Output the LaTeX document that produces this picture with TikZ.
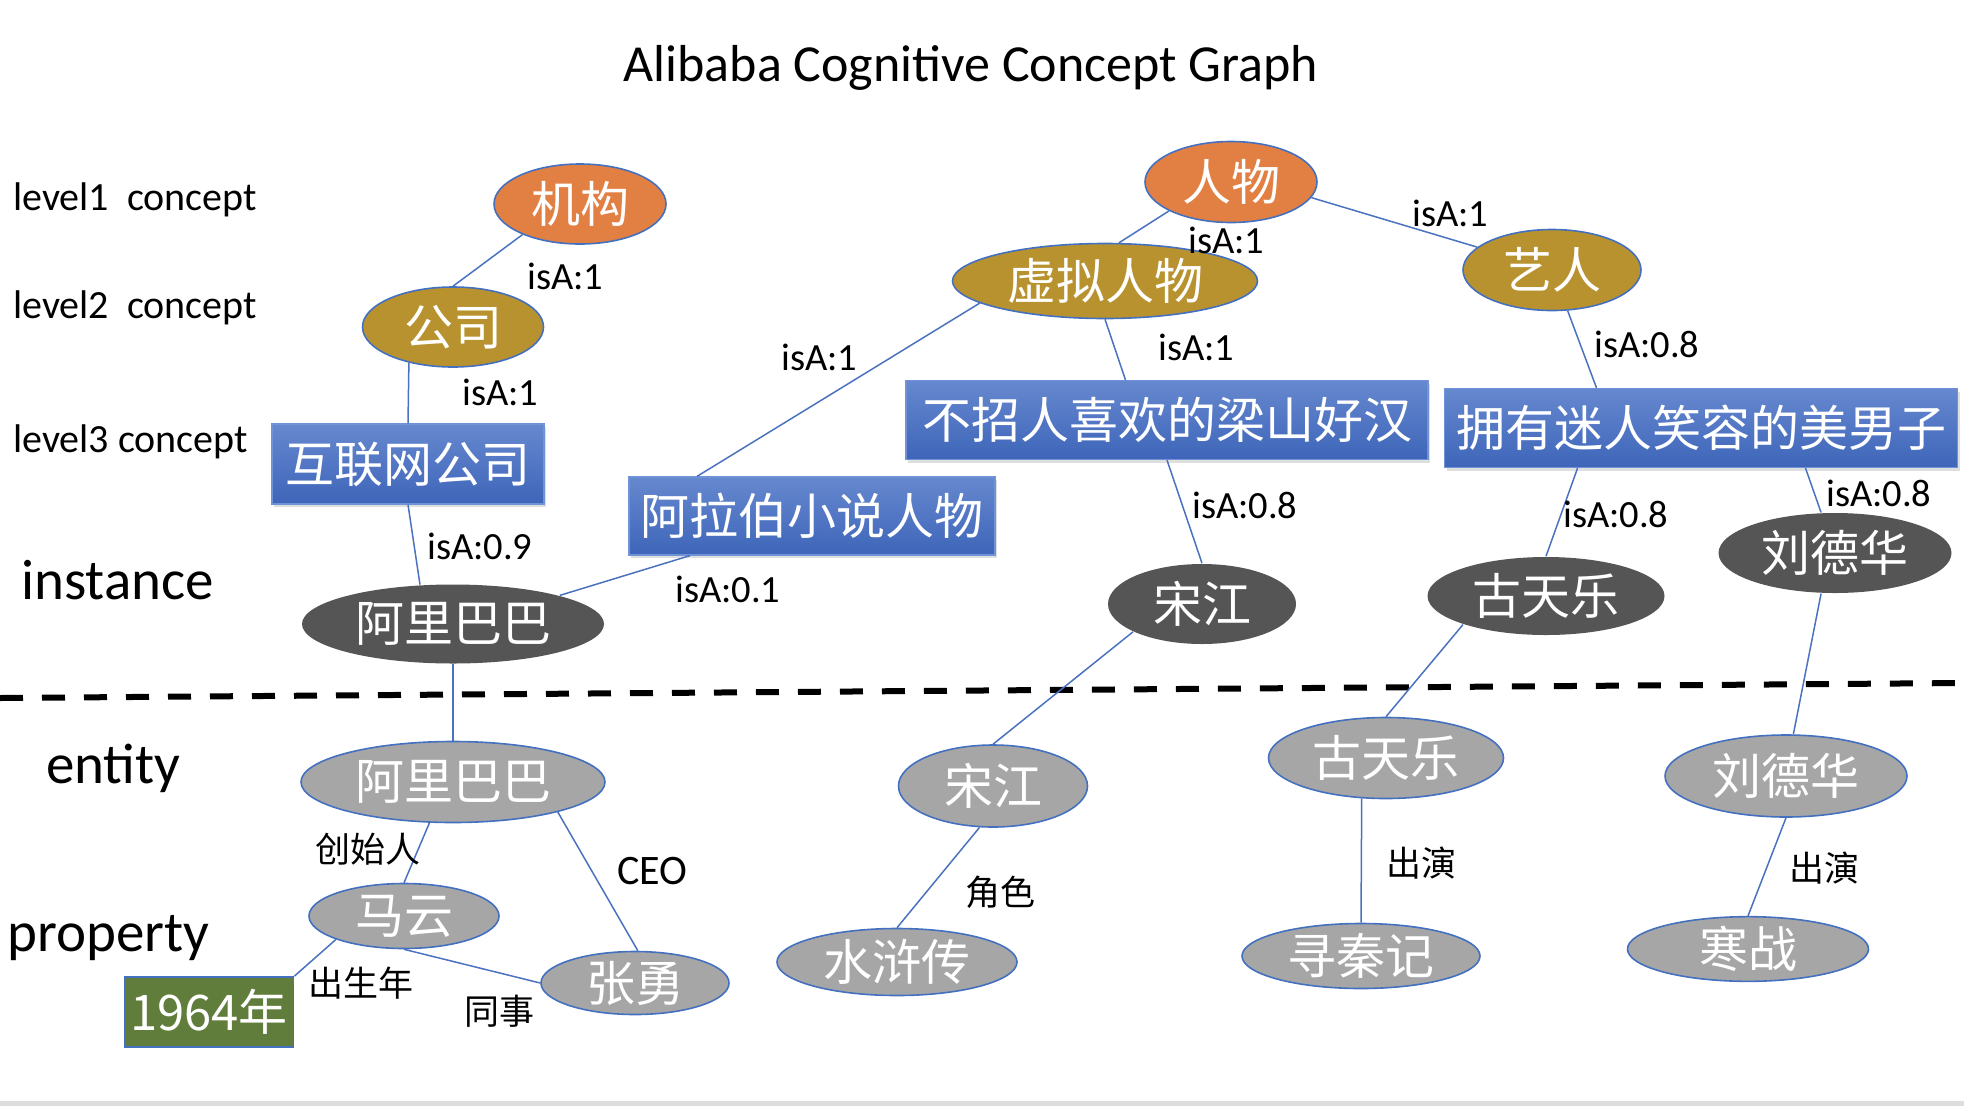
\documentclass[tikz,border=0pt]{standalone}
\usepackage{fontspec}
\setmainfont{Carlito}
\newfontfamily\cjk{Noto Sans CJK SC}
\usetikzlibrary{shapes.geometric,shadows}

\definecolor{cporange}{RGB}{226,128,68}
\definecolor{cpgold}{RGB}{185,146,48}
\definecolor{cpblueT}{RGB}{102,136,207}
\definecolor{cpblueB}{RGB}{62,101,185}
\definecolor{rectline}{RGB}{112,146,214}
\definecolor{nodeline}{RGB}{68,112,192}
\definecolor{linkblue}{RGB}{74,114,190}
\definecolor{instgray}{RGB}{85,85,85}
\definecolor{entgray}{RGB}{166,166,166}
\definecolor{propgreen}{RGB}{96,125,59}
\definecolor{stripgray}{RGB}{221,221,221}

\newcommand\nodefont{\cjk\fontsize{49}{51}\selectfont}
\newcommand\edgefont{\fontsize{38.5}{42}\selectfont}
\newcommand\edgecjk{\cjk\fontsize{35}{40}\selectfont}

\tikzset{
  wh/.style 2 args={minimum width=#1pt, minimum height=#2pt},
  oval/.style={ellipse, inner sep=0pt, draw=nodeline, line width=1.6pt, text=white, font=\nodefont},
  lvlone/.style={oval, fill=cporange},
  lvltwo/.style={oval, fill=cpgold},
  lvlthree/.style={rectangle, inner sep=0pt, draw=rectline, line width=1.2pt,
    top color=cpblueT, bottom color=cpblueB, text=white, font=\nodefont,
    drop shadow={opacity=0.25, shadow xshift=2pt, shadow yshift=-3pt}},
  inst/.style={oval, fill=instgray, draw=none},
  ent/.style={oval, fill=entgray},
  yearbox/.style={rectangle, inner sep=0pt, draw=nodeline, line width=1.6pt, fill=propgreen, text=white, font=\nodefont},
  link/.style={draw=linkblue, line width=1.5pt},
  lab/.style={font=\edgefont, inner sep=0pt, anchor=base west},
  labcn/.style={font=\edgecjk, inner sep=0pt, anchor=west},
  side/.style={inner sep=0pt, anchor=base west},
}

\begin{document}
\begin{tikzpicture}[x=1pt, y=-1pt]
    \useasboundingbox (0,0) rectangle (1964,1106);
    \fill[stripgray] (0,1101) rectangle (1964,1106);

    % 标题
    \node[inner sep=0pt, anchor=base, font=\fontsize{52}{56}\selectfont] (title) at (971,81) {Alibaba Cognitive Concept Graph};

    % 左侧层级
    \node[side, font=\fontsize{40}{44}\selectfont] (lv1) at (13,210) {level1\ \ concept};
    \node[side, font=\fontsize{40}{44}\selectfont] (lv2) at (13,318) {level2\ \ concept};
    \node[side, font=\fontsize{40}{44}\selectfont] (lv3) at (13,452) {level3 concept};
    \node[side, font=\fontsize{57}{60}\selectfont] (lvinst) at (21,599) {instance};
    \node[side, font=\fontsize{57}{60}\selectfont] (lvent) at (46,783) {entity};
    \node[side, font=\fontsize{57}{60}\selectfont] (lvprop) at (7,951) {property};

    % 概念节点
    \node[lvlone, wh={172}{80}] (jigou) at (580,204) {机构};
    \node[lvlone, wh={172}{81}] (renwu) at (1231,182) {人物};
    \node[lvltwo, wh={181}{80}] (gongsi) at (453,327) {公司};
    \node[lvltwo, wh={305}{75}] (xuni) at (1105,281) {虚拟人物};
    \node[lvltwo, wh={178}{81}] (yiren) at (1552,270) {艺人};
    \node[lvlthree, wh={272}{80}] (hulian) at (408,464) {互联网公司};
    \node[lvlthree, wh={366}{78}] (alabo) at (812,516) {阿拉伯小说人物};
    \node[lvlthree, wh={522}{79}] (buzhao) at (1167,420) {不招人喜欢的梁山好汉};
    \node[lvlthree, wh={513}{79}] (yongyou) at (1701,428) {拥有迷人笑容的美男子};

    % 实例节点
    \node[inst, wh={302}{79}] (ialibaba) at (453,624) {阿里巴巴};
    \node[inst, wh={188}{80}] (isongjiang) at (1202,604) {宋江};
    \node[inst, wh={237}{78}] (igutianle) at (1546,596) {古天乐};
    \node[inst, wh={233}{80}] (iliudehua) at (1835,553) {刘德华};

    % 分隔线
    \draw[line width=6pt, dash pattern=on 23pt off 19pt] (0,698) coordinate (cut1) -- (1964,683) coordinate (cut2);

    % 实体与属性
    \node[ent, wh={304}{81}] (ealibaba) at (453,782) {阿里巴巴};
    \node[ent, wh={189}{82}] (esongjiang) at (993,786) {宋江};
    \node[ent, wh={235}{81}] (egutianle) at (1386,758) {古天乐};
    \node[ent, wh={242}{82}] (eliudehua) at (1786,776) {刘德华};
    \node[ent, wh={190}{65}] (mayun) at (404,916) {马云};
    \node[ent, wh={188}{63}] (zhangyong) at (635,983) {张勇};
    \node[ent, wh={240}{67}] (shuihu) at (897,962) {水浒传};
    \node[ent, wh={238}{65}] (xunqin) at (1361,956) {寻秦记};
    \node[ent, wh={241}{64}] (hanzhan) at (1748,949) {寒战};
    \node[yearbox, wh={169}{70}] (nian) at (209,1012) {1964年};

    % 连线
    \draw[link] (jigou.208) -- (gongsi.north);
    \draw[link] (gongsi.219) -- (hulian.north);
    \draw[link] (hulian.south) -- (ialibaba.130);
    \draw[link] (alabo.198) -- (ialibaba.15);
    \draw[link] (renwu.205) -- (xuni.70);
    \draw[link] (renwu.-11) -- (yiren.163);
    \draw[link] (xuni.190) -- (alabo.161);
    \draw[link] (xuni.south) -- (buzhao.136);
    \draw[link] (buzhao.south) -- (isongjiang.north);
    \draw[link] (yiren.-69) -- (yongyou.159);
    \draw[link] (yongyou.198) -- (igutianle.north);
    \draw[link] (yongyou.-21) -- (iliudehua.109);
    \draw[link] (ialibaba.south) -- (ealibaba.north);
    \draw[link] (isongjiang.202) -- (esongjiang.north);
    \draw[link] (igutianle.199) -- (egutianle.north);
    \draw[link] (iliudehua.251) -- (eliudehua.80);
    \draw[link] (ealibaba.240) -- (mayun.north);
    \draw[link] (ealibaba.-16) -- (zhangyong.85);
    \draw[link] (mayun.south) -- (zhangyong.west);
    \draw[link] (mayun.199) -- (nian.north east);
    \draw[link] (esongjiang.252) -- (shuihu.north);
    \draw[link] (egutianle.239) -- (xunqin.north);
    \draw[link] (eliudehua.south) -- (hanzhan.north);

    % 标注
    \node[lab] (w1) at (527,289) {isA:1};
    \node[lab] (w2) at (462,405) {isA:1};
    \node[lab] (w3) at (427,559) {isA:0.9};
    \node[lab] (w4) at (1188,253) {isA:1};
    \node[lab] (w5) at (781,370) {isA:1};
    \node[lab] (w6) at (1158,360) {isA:1};
    \node[lab] (w7) at (675,602) {isA:0.1};
    \node[lab] (w8) at (1192,518) {isA:0.8};
    \node[lab] (w9) at (1412,226) {isA:1};
    \node[lab] (w10) at (1594,357) {isA:0.8};
    \node[lab] (w11) at (1563,527) {isA:0.8};
    \node[lab] (w12) at (1826,506) {isA:0.8};
    \node[lab, font=\fontsize{42}{46}\selectfont] (w13) at (617,884) {CEO};
    \node[labcn] (r1) at (315,849) {创始人};
    \node[labcn] (r2) at (308,983) {出生年};
    \node[labcn] (r3) at (464,1011) {同事};
    \node[labcn] (r4) at (965,892) {角色};
    \node[labcn] (r5) at (1386,863) {出演};
    \node[labcn] (r6) at (1789,868) {出演};
\end{tikzpicture}
\end{document}
